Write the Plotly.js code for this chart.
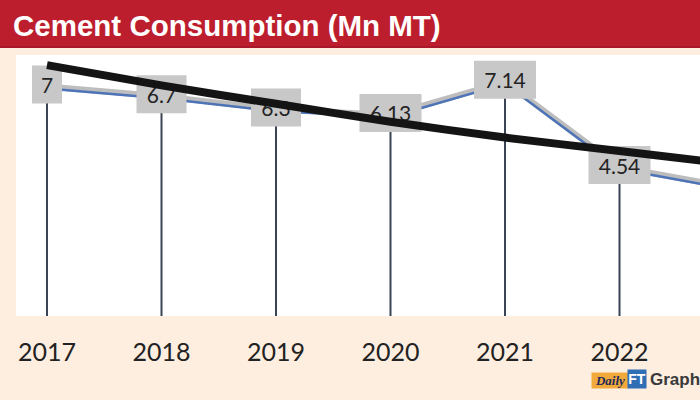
<!DOCTYPE html>
<html><head><meta charset="utf-8">
<script src="https://cdn.plot.ly/plotly-3.0.1.min.js"></script>
<style>html,body{margin:0;padding:0;background:#fdeee0}#chart{width:700px;height:400px}</style>
</head><body><div id="chart"></div>
<script>
// ---- data ----
const years = [2017, 2018, 2019, 2020, 2021, 2022, 2023];
const consumption = [7, 6.7, 6.3, 6.13, 7.14, 4.54, 3.9];
const valueLabels = ['7', '6.7', '6.3', '6.13', '7.14', '4.54', ''];
const trendValues = [7.65, 7.03, 6.47, 5.92, 5.44, 5.03, 4.62];
const tickYears = [2017, 2018, 2019, 2020, 2021, 2022];
const tickLabels = ['2017', '2018', '2019', '2020', '2021', '2022'];
const titleText = 'Cement Consumption (Mn MT)';

// ---- layout geometry (pixels) ----
const W = 700, H = 400;
const mL = 16, mR = 0, mT = 55, mB = 84;
const plotW = W - mL - mR, plotH = H - mT - mB;
const pxPerYear = 114.5, pxPerUnit = 32.8;
const firstOffsetPx = 31;
const x0 = years[0] - firstOffsetPx / pxPerYear;
const xRange = [x0, x0 + plotW / pxPerYear];
const yMax = plotH / pxPerUnit;
const blueShift = 2 / pxPerUnit;

// drop lines built from data
const dropX = [], dropY = [];
years.forEach((yr, i) => { dropX.push(yr, yr, null); dropY.push(consumption[i], 0, null); });

// label boxes (bars) built from data
const boxWidthPx = {1: 30, 2: 40, 3: 50, 4: 62};
const boxH = 38 / pxPerUnit;
const lx = [], lbase = [], lw = [], ltext = [], lh = [];
valueLabels.forEach((t, i) => {
  if (!t) return;
  lx.push(years[i]);
  lbase.push(consumption[i] - boxH / 2 + 0.06);
  lh.push(boxH);
  lw.push(boxWidthPx[t.length] / pxPerYear);
  ltext.push(t);
});

const traces = [
  {x: dropX, y: dropY, type: 'scatter', mode: 'lines', xaxis: 'x', yaxis: 'y',
   line: {color: '#3b4454', width: 2}, hoverinfo: 'skip', showlegend: false},
  {x: years, y: consumption, type: 'scatter', mode: 'lines', xaxis: 'x', yaxis: 'y',
   line: {color: '#bdbdbd', width: 6}, showlegend: false},
  {x: years, y: consumption, type: 'scatter', mode: 'lines', xaxis: 'x', yaxis: 'y2',
   line: {color: '#4e74b8', width: 2.5}, showlegend: false},
  {x: lx, y: lh, base: lbase, width: lw, type: 'bar', xaxis: 'x', yaxis: 'y3',
   marker: {color: '#c8c8c8', line: {width: 0}}, text: ltext, textposition: 'inside',
   insidetextanchor: 'middle', textangle: 0, constraintext: 'none',
   textfont: {family: 'Lato, Open Sans, sans-serif', size: 21, color: '#232323'},
   hoverinfo: 'skip', showlegend: false},
  {x: years, y: trendValues, type: 'scatter', mode: 'lines', xaxis: 'x', yaxis: 'y3',
   line: {color: '#141414', width: 8, shape: 'spline', smoothing: 0.6}, showlegend: false}
];

const px = v => (v - mL) / plotW;           // pixel x -> paper
const py = v => (H - mB - v) / plotH;       // pixel y -> paper

const layout = {
  width: W, height: H,
  margin: {l: mL, r: mR, t: mT, b: mB, pad: 0},
  paper_bgcolor: '#fdeee0', plot_bgcolor: '#ffffff',
  showlegend: false,
  title: {text: titleText, x: 13 / W, xref: 'container', xanchor: 'left',
          y: 1 - 26 / H, yref: 'container', yanchor: 'middle',
          font: {family: 'Liberation Sans, Arial, sans-serif', size: 29.5, color: '#ffffff', weight: 'bold'}},
  xaxis: {range: xRange, showgrid: false, zeroline: false, showline: false,
          tickvals: tickYears, ticktext: tickLabels, ticks: 'outside', ticklen: 14,
          tickcolor: 'rgba(0,0,0,0)', fixedrange: true,
          tickfont: {family: 'Lato, Open Sans, sans-serif', size: 25, color: '#222222'}},
  yaxis: {range: [0, yMax], visible: false, fixedrange: true},
  yaxis2: {range: [blueShift, yMax + blueShift], visible: false, overlaying: 'y', fixedrange: true},
  yaxis3: {range: [0, yMax], visible: false, overlaying: 'y', fixedrange: true},
  shapes: [
    {type: 'rect', xref: 'paper', yref: 'paper', layer: 'below',
     x0: px(-2), x1: px(W + 2), y0: py(47), y1: py(-2),
     fillcolor: '#bd1e2d', line: {width: 0}},
    {type: 'rect', xref: 'paper', yref: 'paper', layer: 'below',
     x0: px(-2), x1: px(W + 2), y0: py(48), y1: py(46),
     fillcolor: '#a8182a', line: {width: 0}}
  ],
  annotations: [
    {xref: 'paper', yref: 'paper', x: px(610), y: py(380), xanchor: 'center', yanchor: 'middle',
     text: '<i><b>Daily</b></i>',
     showarrow: false, bgcolor: '#f2a93b', width: 36, height: 15, borderpad: 0,
     font: {family: 'Liberation Serif, serif', size: 13, color: '#1d2a5a'}},
    {xref: 'paper', yref: 'paper', x: px(637), y: py(379), xanchor: 'center', yanchor: 'middle',
     text: '<b>FT</b>',
     showarrow: false, bgcolor: '#2f6db5', width: 18, height: 18, borderpad: 0,
     font: {family: 'Liberation Sans, Arial, sans-serif', size: 14, color: '#ffffff'}},
    {xref: 'paper', yref: 'paper', x: px(648), y: py(379), xanchor: 'left', yanchor: 'middle',
     text: '<b>Graphics</b>', showarrow: false,
     font: {family: 'Liberation Sans, Arial, sans-serif', size: 17, color: '#3a3a3a'}}
  ]
};

Plotly.newPlot('chart', traces, layout, {displayModeBar: false, staticPlot: true});
</script></body></html>
